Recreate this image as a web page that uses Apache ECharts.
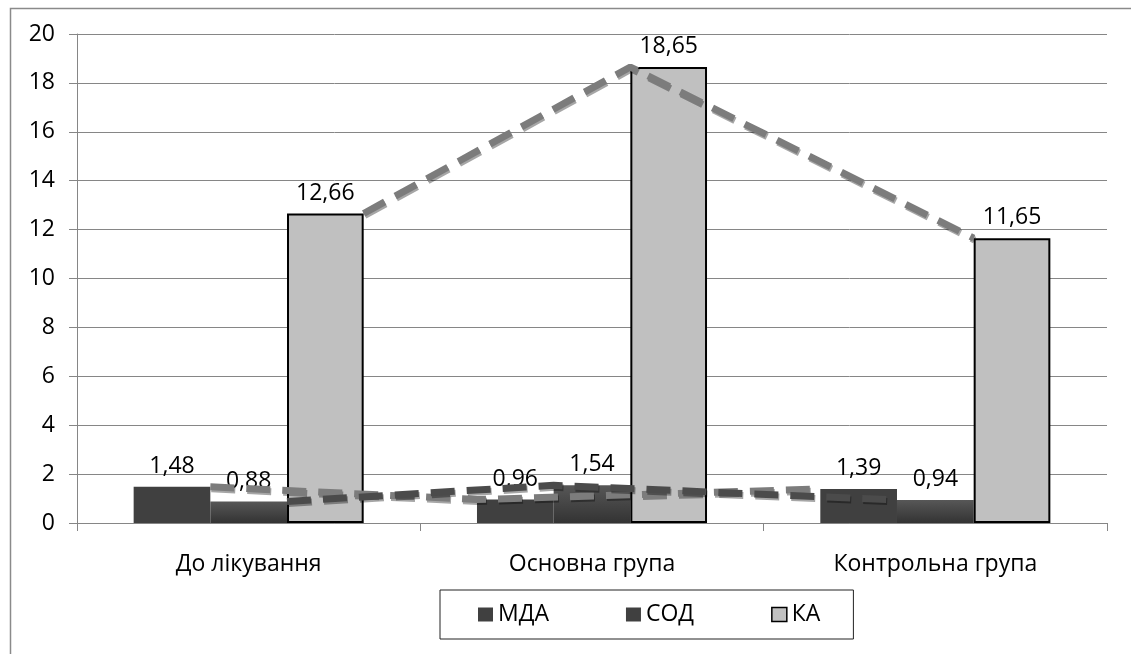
<!DOCTYPE html>
<html>
<head>
<meta charset="utf-8">
<script src="https://cdn.jsdelivr.net/npm/echarts@6/dist/echarts.min.js"></script>
<style>html,body{margin:0;padding:0;background:#fff;}#c{width:1131px;height:654px;}</style>
</head>
<body>
<div id="c"></div>
<script>
const categories = ['До лікування', 'Основна група', 'Контрольна група'];
const seriesNames = ['МДА', 'СОД', 'КА'];
const mda = [1.48, 0.96, 1.39];
const sod = [0.88, 1.54, 0.94];
const ka = [12.66, 18.65, 11.65];
const yMin = 0, yMax = 20, yStep = 2;

const FONT = 'Open Sans';
const catGap = 0.33;
const barW = (1 - catGap) / 3;
// trend lines: first point at right edge of the bar, others at left edge
function edgeX(group, barIdx) {
  const left = group + catGap / 2 + barIdx * barW;
  return group === 0 ? left + barW : left;
}
function linePoints(vals, barIdx) {
  return vals.map((v, g) => [edgeX(g, barIdx), v]);
}
const fmt = p => Number(p.value).toFixed(2).replace('.', ',');

const chart = echarts.init(document.getElementById('c'));
const labelCfg = { show: true, position: 'top', distance: 9, color: '#000', fontFamily: FONT, fontSize: 23, formatter: fmt };
const lineCommon = (color) => ({
  type: 'line', xAxisIndex: 1, yAxisIndex: 0, symbol: 'none', z: 5, silent: true,
  lineStyle: { color: color, width: 7, type: [24, 12], cap: 'butt',
    shadowColor: 'rgba(0,0,0,0.35)', shadowOffsetX: 1, shadowOffsetY: 2, shadowBlur: 0 }
});

chart.setOption({
  animation: false,
  backgroundColor: '#fff',
  graphic: [{ type: 'rect', left: 8, top: 6, shape: { width: 1200, height: 700 }, style: { fill: 'none', stroke: '#8a8a8a', lineWidth: 1.5 }, z: -1 }],
  grid: { left: 77, right: 24, top: 34, bottom: 131, containLabel: false },
  legend: {
    left: 440, top: 590, padding: [13, 33, 13, 38], itemGap: 77,
    borderColor: '#222', borderWidth: 1, itemWidth: 15, itemHeight: 14,
    textStyle: { fontFamily: FONT, fontSize: 23, color: '#000' },
    data: [
      { name: 'МДА', icon: 'rect', itemStyle: { color: '#404040', borderWidth: 0 } },
      { name: 'СОД', icon: 'rect', itemStyle: { color: '#404040', borderColor: '#fff', borderWidth: 0 } },
      { name: 'КА', icon: 'rect', itemStyle: { color: '#c0c0c0', borderColor: '#000', borderWidth: 1.5 } }
    ]
  },
  xAxis: [{
    type: 'category', data: categories,
    axisLine: { lineStyle: { color: '#868686', width: 1 } },
    axisTick: { show: true, length: 8, lineStyle: { color: '#868686' } },
    axisLabel: { color: '#000', fontFamily: FONT, fontSize: 23, margin: 30 },
    splitLine: { show: false }
  }, {
    type: 'value', min: 0, max: 3, show: false, position: 'bottom'
  }],
  yAxis: {
    type: 'value', min: yMin, max: yMax, interval: yStep,
    axisLine: { show: true, lineStyle: { color: '#868686', width: 1 } },
    axisTick: { show: true, length: 8, lineStyle: { color: '#868686' } },
    axisLabel: { color: '#000', fontFamily: FONT, fontSize: 23, margin: 22 },
    splitLine: { show: true, lineStyle: { color: '#868686', width: 1 } }
  },
  series: [
    { name: 'МДА', type: 'bar', data: mda, barGap: '0%', barCategoryGap: (catGap * 100) + '%',
      itemStyle: { color: '#404040' }, label: labelCfg },
    { name: 'СОД', type: 'bar', data: sod, barGap: '0%', barCategoryGap: (catGap * 100) + '%',
      itemStyle: { color: new echarts.graphic.LinearGradient(0, 0, 0, 1, [{ offset: 0, color: '#575757' }, { offset: 1, color: '#333333' }]) },
      label: labelCfg },
    { name: 'КА', type: 'bar', data: ka, barGap: '0%', barCategoryGap: (catGap * 100) + '%',
      itemStyle: { color: '#c0c0c0', borderColor: '#000', borderWidth: 2 }, label: labelCfg },
    Object.assign(lineCommon('#7c7c7c'), { name: 'МДА-лінія', data: linePoints(mda, 0) }),
    Object.assign(lineCommon('#4b4b4b'), { name: 'СОД-лінія', data: linePoints(sod, 1) }),
    Object.assign(lineCommon('#7c7c7c'), { name: 'КА-лінія', data: linePoints(ka, 2) })
  ]
});
</script>
</body>
</html>
